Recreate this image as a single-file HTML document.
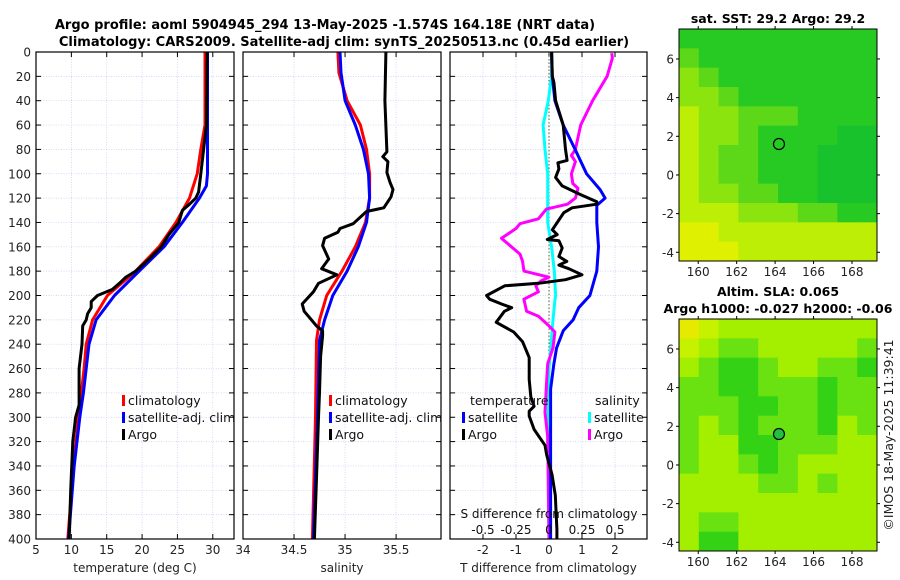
<!DOCTYPE html>
<html><head><meta charset="utf-8"><style>
html,body{margin:0;padding:0;background:#fff;width:900px;height:580px;overflow:hidden}
svg{display:block;font-family:"DejaVu Sans","Liberation Sans",sans-serif}
</style></head><body>
<svg id="chart" width="900" height="580" viewBox="0 0 900 580" xmlns="http://www.w3.org/2000/svg">
<text x="325" y="29" text-anchor="middle" font-weight="bold" font-size="13">Argo profile: aoml 5904945_294 13-May-2025 -1.574S 164.18E (NRT data)</text>
<text x="344" y="46" text-anchor="middle" font-weight="bold" font-size="13">Climatology: CARS2009. Satellite-adj clim: synTS_20250513.nc (0.45d earlier)</text>
<text x="778" y="23" text-anchor="middle" font-weight="bold" font-size="12.5">sat. SST: 29.2 Argo: 29.2</text>
<text x="778" y="296" text-anchor="middle" font-weight="bold" font-size="12.5">Altim. SLA: 0.065</text>
<text x="778" y="313" text-anchor="middle" font-weight="bold" font-size="12.5">Argo h1000: -0.027 h2000: -0.06</text>
<text transform="translate(893,435) rotate(-90)" text-anchor="middle" font-size="12.5" fill="#222">©IMOS 18-May-2025 11:39:41</text>
</svg>
<script>
// ---------- data ----------
const depthTicks=[0,20,40,60,80,100,120,140,160,180,200,220,240,260,280,300,320,340,360,380,400];
const tempTicks=[5,10,15,20,25,30];
const salTicks=[34,34.5,35,35.5];
const tdiffTicks=[-2,-1,0,1,2];
const sdiffTicks=[-0.5,-0.25,0,0.25,0.5];
const sdiffLabels=["-0.5","-0.25","0","0.25","0.5"];

const tClimD=[0,60,80,100,120,140,160,180,200,220,240,260,280,300,340,400];
const tClimV=[28.9,28.9,28.3,27.8,26.7,24.8,22.4,19.1,15.1,13.0,12.1,11.8,11.4,11.0,10.3,9.5];
const tSatD=[0,60,100,110,120,140,160,180,200,220,240,260,280,300,340,400];
const tSatV=[29.25,29.25,29.25,29.1,28.1,25.7,23.1,19.6,16.1,13.5,12.5,12.1,11.7,11.2,10.4,9.6];
const tArgoD=[0,60,80,100,115,120,125,130,140,150,160,170,180,185,190,195,200,205,210,215,220,225,240,260,290,300,320,360,400];
const tArgoV=[29.2,29.1,28.7,28.3,28.0,27.6,26.7,25.7,25.2,23.8,22.7,21.0,19.1,17.7,16.8,15.8,13.7,12.8,12.8,12.3,12.1,11.6,11.5,11.1,11.1,10.6,10.2,9.9,9.7];

const sClimD=[0,17,40,60,80,100,120,140,160,180,200,220,237,300,400];
const sClimV=[34.93,34.94,35.02,35.15,35.21,35.24,35.24,35.2,35.1,34.97,34.82,34.75,34.72,34.71,34.68];
const sSatD=[0,17,40,60,80,100,120,140,160,180,200,220,237,300,400];
const sSatV=[34.95,34.96,35.0,35.1,35.18,35.23,35.24,35.21,35.13,35.02,34.88,34.8,34.75,34.73,34.69];
const sArgoD=[0,40,82,86,90,99,107,113,119,128,131,141,145,148,153,159,170,178,183,190,197,207,213,219,225,229,233,250,280,300,350,400];
const sArgoV=[35.4,35.39,35.41,35.37,35.42,35.41,35.44,35.47,35.45,35.38,35.21,35.08,34.95,34.93,34.8,34.78,34.84,34.77,34.92,34.74,34.69,34.58,34.6,34.66,34.72,34.78,34.78,34.76,34.75,34.74,34.72,34.7];

const dTsatD=[0,20,40,60,80,100,113,120,126,140,160,180,200,210,220,229,243,256,277,320,400];
const dTsatV=[0.08,0.1,0.18,0.43,0.79,1.14,1.55,1.7,1.45,1.45,1.5,1.45,1.24,0.9,0.73,0.43,0.23,0.15,0.05,0.05,0.05];
const dTargoD=[0,20,25,40,60,80,89,91,96,103,110,117,123,125,128,132,138,146,150,154,155,161,168,172,175,178,183,187,190,192,200,203,207,210,213,222,230,238,251,269,283,291,295,299,310,323,331,347,364,392,400];
const dTargoV=[0.08,0.1,0.15,0.2,0.43,0.5,0.55,0.27,0.3,0.2,0.4,0.94,1.45,1.45,0.7,0.45,0.3,0.1,0.25,-0.05,0.3,0.4,0.3,0.54,0.3,0.6,1.0,0.5,-0.32,-1.34,-1.89,-1.8,-1.44,-1.13,-1.35,-1.6,-1.07,-0.8,-0.6,-0.6,-0.55,-0.45,-0.6,-0.6,-0.45,-0.12,-0.07,0.09,0.19,0.24,0.24];
const dSsatD=[0,20,40,60,80,100,140,160,180,200,204,220,240,260,320,400];
const dSsatV=[0.02,0.02,-0.005,-0.045,-0.03,-0.01,-0.01,0.02,0.04,0.05,0.045,0.03,0.015,0.0,-0.01,0.0];
const dSargoD=[1,5,20,40,60,80,85,90,100,108,112,120,125,129,137,141,145,153,166,172,180,185,188,192,197,203,213,217,225,230,243,256,274,296,316,400];
const dSargoV=[0.475,0.48,0.44,0.33,0.24,0.2,0.17,0.2,0.17,0.18,0.22,0.2,0.14,-0.02,-0.08,-0.22,-0.25,-0.36,-0.22,-0.2,-0.19,0.0,-0.06,-0.1,-0.08,-0.19,-0.17,-0.08,0.0,0.045,0.03,-0.01,-0.02,-0.03,-0.01,0.0];

// map grids (row 0 = north), color level indices
const sstGrid=[
[1,1,1,1,1,1,1,1,1,1],[2,1,1,1,1,1,1,1,1,1],[3,2,1,1,1,1,1,1,1,1],[3,3,2,1,1,1,1,1,1,1],
[4,3,3,2,2,2,1,1,1,1],[4,3,3,2,1,1,1,1,0,0],[4,3,2,2,1,1,1,0,0,0],[4,3,2,2,1,1,1,0,0,0],
[4,3,3,2,2,1,1,0,0,0],[4,4,4,3,3,3,2,2,1,1],[5,5,4,4,4,4,4,4,4,4],[5,5,5,4,4,4,4,4,4,4]];
const slaGrid=[
[5,4,3,3,3,3,3,3,3,3],[4,3,2,2,3,3,3,3,3,2],[3,2,1,1,2,3,3,2,2,1],[2,2,1,1,2,2,2,1,2,2],
[2,2,2,1,1,2,2,1,2,2],[2,3,2,1,2,2,2,1,3,2],[2,3,3,1,1,2,2,2,3,3],[2,3,3,2,1,2,3,3,3,3],
[3,3,3,3,2,2,3,2,3,3],[3,3,3,3,3,3,3,3,3,3],[3,2,2,3,3,3,3,3,3,3],[3,1,1,3,3,3,3,3,3,3]];
const lonTicks=[160,162,164,166,168];
const latTicks=[6,4,2,0,-2,-4];
const argoPos=[164.2,1.6];

// ---------- drawing ----------
const svg=document.getElementById('chart');
const NS='http://www.w3.org/2000/svg';
function mk(tag,attrs,parent){const e=document.createElementNS(NS,tag);for(const k in attrs)e.setAttribute(k,attrs[k]);(parent||svg).appendChild(e);return e;}
const Y0=52,Y1=539;
const yD=d=>Y0+(d/400)*(Y1-Y0);
const panels=[
 {name:'temperature-panel',x0:36,x1:234,min:5,max:33,ticks:tempTicks,label:'temperature (deg C)',ylabels:true},
 {name:'salinity-panel',x0:243,x1:441,min:34,max:35.94,ticks:salTicks,label:'salinity',ylabels:false},
 {name:'difference-panel',x0:450,x1:647,min:-3,max:2.97,ticks:tdiffTicks,label:'T difference from climatology',ylabels:false}
];
function scale(p){return v=>p.x0+(v-p.min)/(p.max-p.min)*(p.x1-p.x0);}
const sx=panels.map(scale);
const sdx=v=>549+v*132;
const GRID='#c4cdf0';

panels.forEach((p,i)=>{
 const g=mk('g',{});
 
 
 depthTicks.forEach(d=>{
  const y=yD(d);
  if(d>0&&d<400){const l=mk('line',{x1:p.x0,x2:p.x1,y1:y,y2:y,stroke:GRID,'stroke-width':0.7,'stroke-dasharray':'1,1.5'},g);
   }
  mk('line',{x1:p.x0,x2:p.x0+5,y1:y,y2:y,stroke:'#000'},g);
  mk('line',{x1:p.x1-5,x2:p.x1,y1:y,y2:y,stroke:'#000'},g);
  if(p.ylabels){const t=mk('text',{x:p.x0-5,y:y+4.5,'text-anchor':'end','font-size':12,fill:'#222'},g);t.textContent=d;
   }
 });
 const s=sx[i];
 p.ticks.forEach(v=>{
  const x=s(v);
  if(x>p.x0+1){const l=mk('line',{x1:x,x2:x,y1:Y0,y2:Y1,stroke:GRID,'stroke-width':0.7,'stroke-dasharray':'1,1.5'},g);
   }
  mk('line',{x1:x,x2:x,y1:Y1,y2:Y1-5,stroke:'#000'},g);
  mk('line',{x1:x,x2:x,y1:Y0,y2:Y0+5,stroke:'#000'},g);
  const t=mk('text',{x:x,y:554,'text-anchor':'middle','font-size':12,fill:'#222'},g);t.textContent=v;
  
 });
 const lab=mk('text',{x:(p.x0+p.x1)/2,y:572,'text-anchor':'middle','font-size':12,fill:'#222'},g);lab.textContent=p.label;
 
});

function line(D,V,sc,color,name){
 const pts=D.map((d,k)=>sc(V[k]).toFixed(1)+','+yD(d).toFixed(1)).join(' ');
 const e=mk('polyline',{points:pts,fill:'none',stroke:color,'stroke-width':3,'stroke-linejoin':'round'});
 
 
}
const z=mk('line',{x1:549,x2:549,y1:Y0,y2:Y1,stroke:'#556633','stroke-width':1,'stroke-dasharray':'1.5,2'});



line(tClimD,tClimV,sx[0],'#ff0000','temp-climatology-line');
line(tSatD,tSatV,sx[0],'#0000ff','temp-satellite-line');
line(tArgoD,tArgoV,sx[0],'#000','temp-argo-line');
line(sClimD,sClimV,sx[1],'#ff0000','sal-climatology-line');
line(sSatD,sSatV,sx[1],'#0000ff','sal-satellite-line');
line(sArgoD,sArgoV,sx[1],'#000','sal-argo-line');
line(dSsatD,dSsatV,sdx,'#00ffff','sdiff-satellite-line');
line(dSargoD,dSargoV,sdx,'#ff00ff','sdiff-argo-line');
line(dTsatD,dTsatV,sx[2],'#0000ff','tdiff-satellite-line');
line(dTargoD,dTargoV,sx[2],'#000','tdiff-argo-line');

panels.forEach(p=>{const r=mk('rect',{x:p.x0,y:Y0,width:p.x1-p.x0,height:Y1-Y0,fill:'none',stroke:'#000','stroke-width':1.2});
 });

sdiffTicks.forEach((v,k)=>{const t=mk('text',{x:sdx(v),y:534,'text-anchor':'middle','font-size':12,fill:'#111'});t.textContent=sdiffLabels[k];
 });
const st=mk('text',{x:549,y:518,'text-anchor':'middle','font-size':12,fill:'#111'});st.textContent='S difference from climatology';


function legend(x,y,color,label){
 const g=mk('g',{});
 
 
 mk('rect',{x:x,y:y-10,width:3,height:11,fill:color},g);
 const t=mk('text',{x:x+6,y:y,'font-size':12.5,fill:'#111'},g);t.textContent=label;
}
legend(122,405,'#ff0000','climatology');legend(122,422,'#0000ff','satellite-adj. clim');legend(122,439,'#000','Argo');
legend(329,405,'#ff0000','climatology');legend(329,422,'#0000ff','satellite-adj. clim');legend(329,439,'#000','Argo');
const tt=mk('text',{x:470,y:405,'font-size':12.5,fill:'#111'});tt.textContent='temperature';

const sl=mk('text',{x:595,y:405,'font-size':12.5,fill:'#111'});sl.textContent='salinity';

legend(462,422,'#0000ff','satellite');legend(462,439,'#000','Argo');
legend(588,422,'#00ffff','satellite');legend(588,439,'#ff00ff','Argo');

const MX0=679,MX1=877,LON0=159,LON1=169.3,LAT0=7.55,LAT1=-4.45;
const sstColors=['#18c22c','#26ca22','#5cd818','#8ce40e','#bcee06','#dff000'];
const slaColors=['#22c236','#34d214','#6ae212','#a4ee00','#c6f200','#e6ea00'];
function drawMap(grid,colors,top,name,filled){
 const bot=top+232;
 const g=mk('g',{});
 
 
 const mxL=v=>MX0+(v-LON0)/(LON1-LON0)*(MX1-MX0);
 const myL=v=>top+(LAT0-v)/(LAT0-LAT1)*(bot-top);
 const rows=grid.length,cols=grid[0].length;
 const cw=(MX1-MX0)/cols,ch=(bot-top)/rows;
 grid.forEach((row,r)=>row.forEach((c,k)=>{
  const cell=mk('rect',{x:MX0+k*cw,y:top+r*ch,width:cw+0.5,height:ch+0.5,fill:colors[c]},g);
  
  
 }));
 mk('rect',{x:MX0,y:top,width:MX1-MX0,height:bot-top,fill:'none',stroke:'#000','stroke-width':1},g);
 lonTicks.forEach(v=>{const x=mxL(v);mk('line',{x1:x,x2:x,y1:bot,y2:bot+3,stroke:'#000'},g);mk('line',{x1:x,x2:x,y1:top,y2:top-3,stroke:'#000'},g);
  const t=mk('text',{x:x,y:bot+15,'text-anchor':'middle','font-size':12,fill:'#222'},g);t.textContent=v;
  });
 latTicks.forEach(v=>{const y=myL(v);mk('line',{x1:MX0-3,x2:MX0,y1:y,y2:y,stroke:'#000'},g);mk('line',{x1:MX1,x2:MX1+3,y1:y,y2:y,stroke:'#000'},g);
  const t=mk('text',{x:MX0-5,y:y+4.5,'text-anchor':'end','font-size':12,fill:'#222'},g);t.textContent=v;
  });
 const c=mk('circle',{cx:mxL(argoPos[0]),cy:myL(argoPos[1]),r:5.5,fill:filled?'#20c040':'none',stroke:'#000','stroke-width':1.2},g);
 
 
}
drawMap(sstGrid,sstColors,29,'sst-map',false);
drawMap(slaGrid,slaColors,319,'sla-map',true);
</script>
</body></html>
